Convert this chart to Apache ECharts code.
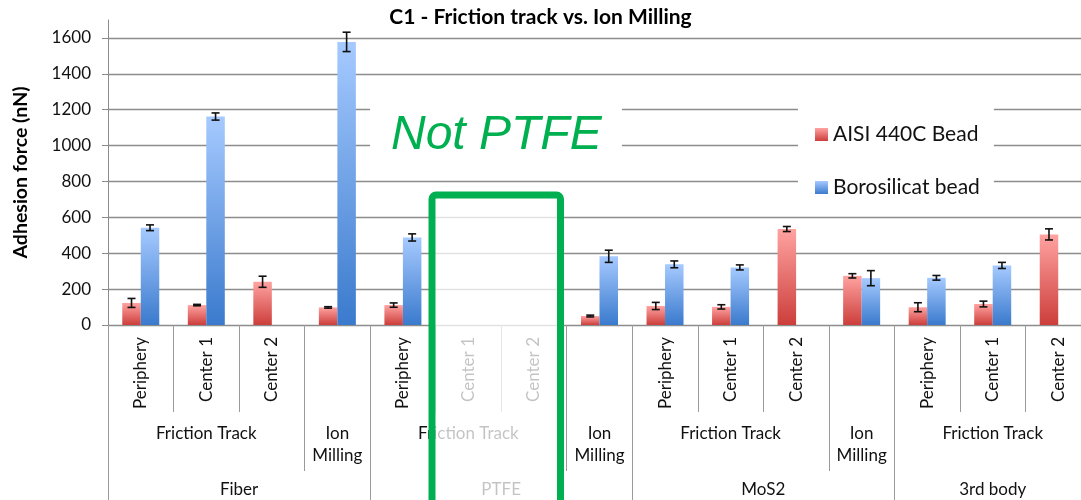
<!DOCTYPE html>
<html>
<head>
<meta charset="utf-8">
<script src="https://cdn.jsdelivr.net/npm/echarts@6/dist/echarts.min.js"></script>
<style>html,body{margin:0;padding:0;background:#fff}#c{width:1081px;height:500px}</style>
</head>
<body>
<div id="c"></div>
<script>
// ---- data ----
const level1Labels = ['Periphery','Center 1','Center 2','', 'Periphery','Center 1','Center 2','', 'Periphery','Center 1','Center 2','', 'Periphery','Center 1','Center 2'];
const level2Labels = ['Friction Track','Ion\nMilling','Friction Track','Ion\nMilling','Friction Track','Ion\nMilling','Friction Track'];
const level2Spans = [3,1,3,1,3,1,3];
const level3Labels = ['Fiber','PTFE','MoS2','3rd body'];
const level3Spans = [4,4,4,3];
const seriesNames = ['AISI 440C Bead','Borosilicat bead'];
const redValues  = [123,111,241,98, 111,null,null,50, 106,101,535,274, 99,117,505];
const redErrors  = [25,4,31,4,      12,null,null,5,   20,12,14,12,    25,16,31];
const blueValues = [542,1162,null,1578, 488,null,null,383, 338,321,null,261, 263,332,null];
const blueErrors = [16,20,null,54,      20,null,null,34,   19,14,null,42,    13,17,null];
const yTicks = {min:0, max:1700, interval:200};

// ---- build hierarchical axes ----
function buildLevel(labels, spans){
  const total = spans.reduce((a,b)=>a+b,0);
  const data = new Array(2*total+1).fill('');
  const ticks = new Set([0]);
  let pos = 0;
  labels.forEach((l,i)=>{ data[2*pos+spans[i]] = l; pos += spans[i]; ticks.add(2*pos); });
  return {data, ticks};
}
const lv2 = buildLevel(level2Labels, level2Spans);
const lv3 = buildLevel(level3Labels, level3Spans);

const BAR_W = 18.5;
const FONT = 'Lato, "Open Sans", sans-serif';
const GRID = '#8c8c8c';
const SEP = '#9a9a9a';

function errData(vals, errs){
  const out = [];
  vals.forEach((v,i)=>{ if(v!=null && errs[i]!=null) out.push([i, v, errs[i]]); });
  return out;
}
function errRender(offset){
  return function(params, api){
    const i = api.value(0), v = api.value(1), e = api.value(2);
    const hi = api.coord([i, v+e]), lo = api.coord([i, v-e]);
    const x = hi[0] + offset, cw = 4;
    const st = {stroke:'#111', lineWidth:1.6};
    return {type:'group', children:[
      {type:'line', shape:{x1:x, y1:hi[1], x2:x, y2:lo[1]}, style:st},
      {type:'line', shape:{x1:x-cw, y1:hi[1], x2:x+cw, y2:hi[1]}, style:st},
      {type:'line', shape:{x1:x-cw, y1:lo[1], x2:x+cw, y2:lo[1]}, style:st}
    ]};
  };
}
const redGrad = new echarts.graphic.LinearGradient(0,0,0,1,[{offset:0,color:'#ffa3a1'},{offset:1,color:'#cc3e3b'}]);
const blueGrad = new echarts.graphic.LinearGradient(0,0,0,1,[{offset:0,color:'#a6caff'},{offset:1,color:'#3a7acd'}]);

const chart = echarts.init(document.getElementById('c'), null, {renderer:'canvas'});
chart.setOption({
  animation:false,
  backgroundColor:'#fff',
  textStyle:{fontFamily:FONT},
  title:{text:'C1 - Friction track vs. Ion Milling', left:'center', top:2,
    textStyle:{fontFamily:FONT, fontSize:21, fontWeight:'bold', color:'#000'}},
  legend:{data:seriesNames, orient:'vertical', left:798, top:100, padding:[24,14,8,17],
    itemGap:32, itemWidth:13, itemHeight:13, icon:'rect', backgroundColor:'#fff',
    textStyle:{fontFamily:FONT, fontSize:21, color:'#111'}},
  grid:{left:108, top:20, width:983, height:305, containLabel:false, outerBoundsMode:'none'},
  xAxis:[
    {type:'category', data:level1Labels, position:'bottom',
     axisLine:{show:true, lineStyle:{color:GRID, width:1}},
     axisTick:{show:true, interval:0, length:87, lineStyle:{color:SEP}},
     axisLabel:{interval:0, rotate:90, margin:12, fontSize:17, color:'#111', fontFamily:FONT},
     splitLine:{show:false}},
    {type:'category', data:lv2.data, boundaryGap:false, position:'bottom', offset:87,
     axisLine:{show:false},
     axisTick:{show:true, length:59, interval:(idx)=>lv2.ticks.has(idx), lineStyle:{color:SEP}},
     axisLabel:{interval:0, margin:11, fontSize:17, lineHeight:22, color:'#111', fontFamily:FONT}},
    {type:'category', data:lv3.data, boundaryGap:false, position:'bottom', offset:146,
     axisLine:{show:false},
     axisTick:{show:true, length:40, interval:(idx)=>lv3.ticks.has(idx), lineStyle:{color:SEP}},
     axisLabel:{interval:0, margin:10, fontSize:17, color:'#111', fontFamily:FONT}}
  ],
  yAxis:{type:'value', min:yTicks.min, max:yTicks.max, interval:yTicks.interval,
    name:'Adhesion force (nN)', nameLocation:'middle', nameGap:77, nameRotate:90,
    nameTextStyle:{fontFamily:FONT, fontSize:19.5, fontWeight:'bold', color:'#000'},
    axisLine:{show:true, lineStyle:{color:GRID}},
    axisTick:{show:true, length:6, lineStyle:{color:GRID}},
    axisLabel:{showMaxLabel:false, margin:17, fontSize:17, color:'#111', fontFamily:FONT,
      formatter:(v)=>String(v)},
    splitLine:{show:true, showMaxLine:false, lineStyle:{color:GRID, width:1.3}}},
  series:[
    {name:seriesNames[0], type:'bar', data:redValues, barWidth:BAR_W, barGap:'0%', itemStyle:{color:redGrad}},
    {name:seriesNames[1], type:'bar', data:blueValues, barWidth:BAR_W, barGap:'0%', itemStyle:{color:blueGrad}},
    {type:'custom', data:errData(redValues, redErrors), renderItem:errRender(-BAR_W/2), z:5, encode:{x:0,y:1}},
    {type:'custom', data:errData(blueValues, blueErrors), renderItem:errRender(BAR_W/2), z:5, encode:{x:0,y:1}}
  ],
  graphic:[
    {type:'rect', z:90, shape:{x:370, y:90, width:252, height:76}, style:{fill:'#fff'}},
    {type:'text', z:91, x:391, y:136, style:{text:'Not PTFE', fill:'#00b050',
      font:'italic 48px "Liberation Sans", Arial, sans-serif', textVerticalAlign:'middle'}},
    {type:'rect', z:100, shape:{x:432, y:195, width:128.5, height:400, r:4},
      style:{fill:'rgba(255,255,255,0.75)', stroke:'#00b050', lineWidth:7}}
  ]
});
</script>
</body>
</html>
